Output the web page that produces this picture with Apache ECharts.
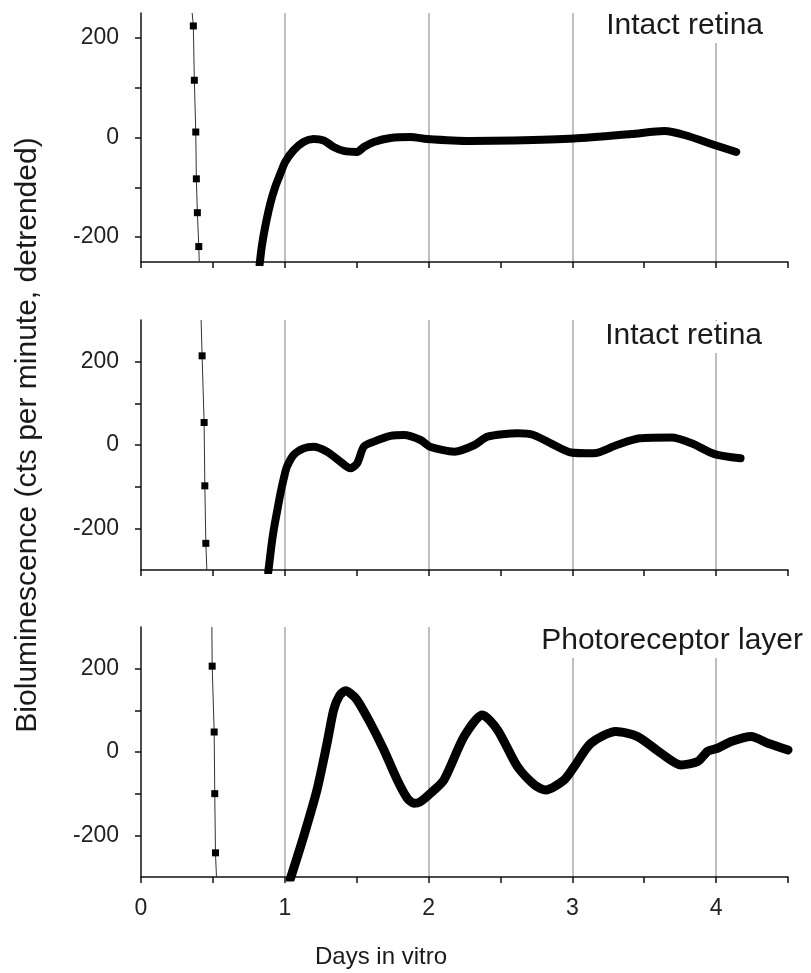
<!DOCTYPE html>
<html>
<head>
<meta charset="utf-8">
<script src="https://cdn.jsdelivr.net/npm/echarts@6/dist/echarts.min.js"></script>
<style>
    html, body { margin: 0; padding: 0; background: #fff; }
    #chart { width: 811px; height: 973px; }
</style>
</head>
<body>
<div id="chart"></div>
<script>
    // labels
    var panelTitles = ['Intact retina', 'Intact retina', 'Photoreceptor layer'];
    var xName = 'Days in vitro';
    var yName = 'Bioluminescence (cts per minute, detrended)';
    var xTickLabels = [0, 1, 2, 3, 4];
    var yTickLabels = [-200, 0, 200];
    var yTicks = [-200, -100, 0, 100, 200];
    var yRanges = [[-250, 250], [-300, 300], [-300, 300]];

    // panel 1: intact retina (days, cts)
    var retinaA = [
        [0.825, -255], [0.84, -219], [0.864, -179], [0.899, -133], [0.934, -99], [0.969, -73],
        [1.003, -49], [1.06, -26], [1.13, -9], [1.2, -3], [1.27, -6], [1.34, -19],
        [1.41, -27], [1.503, -29], [1.55, -19], [1.62, -9], [1.735, -1], [1.875, 1],
        [1.99, -3], [2.29, -7], [2.59, -6], [3.01, -2], [3.41, 7], [3.64, 13],
        [3.78, 5], [4.01, -17], [4.14, -29]
    ];
    var guideMarksA = [[0.364, 224], [0.371, 115], [0.381, 11], [0.385, -83], [0.392, -151], [0.402, -219]];
    var guideEndsA = [[0.356, 250], [0.405, -250]];

    // panel 2: intact retina
    var retinaB = [
        [0.885, -305], [0.9, -262], [0.915, -222], [0.93, -190], [0.946, -160], [0.965, -125],
        [0.98, -100], [1.0, -70], [1.015, -52], [1.061, -24], [1.131, -8], [1.2, -4],
        [1.294, -16], [1.387, -40], [1.456, -56], [1.503, -44], [1.55, -4], [1.62, 8],
        [1.735, 22], [1.828, 24], [1.944, 12], [2.01, -4], [2.18, -16], [2.32, 0],
        [2.41, 20], [2.62, 28], [2.73, 24], [2.85, 4], [2.99, -18], [3.15, -20],
        [3.31, 0], [3.47, 16], [3.69, 18], [3.83, 4], [3.99, -22], [4.17, -32]
    ];
    var guideMarksB = [[0.425, 214], [0.439, 54], [0.444, -98], [0.451, -236]];
    var guideEndsB = [[0.418, 300], [0.458, -300]];

    // panel 3: photoreceptor layer
    var photoLayer = [
        [1.038, -305], [1.131, -203], [1.224, -91], [1.294, 21], [1.34, 101], [1.38, 135],
        [1.422, 147], [1.46, 140], [1.503, 125], [1.596, 69], [1.689, 5], [1.782, -67],
        [1.85, -110], [1.898, -123], [1.94, -120], [2.014, -99], [2.107, -67], [2.247, 37],
        [2.374, 89], [2.48, 53], [2.618, -35], [2.74, -80], [2.815, -91], [2.943, -67],
        [3.013, -35], [3.129, 21], [3.303, 49], [3.454, 37], [3.617, -3], [3.756, -31],
        [3.872, -23], [3.942, 2], [4.01, 9], [4.105, 25], [4.244, 37], [4.36, 21], [4.5, 5]
    ];
    var guideMarksC = [[0.495, 206], [0.509, 48], [0.513, -100], [0.518, -242]];
    var guideEndsC = [[0.493, 300], [0.525, -300]];

    var curves = [retinaA, retinaB, photoLayer];
    var guideMarks = [guideMarksA, guideMarksB, guideMarksC];
    var guideEnds = [guideEndsA, guideEndsB, guideEndsC];

    var font = '"Liberation Sans", Arial, sans-serif';
    var gridTops = [13, 320, 627];
    var gridHeights = [249, 250, 250];
    var titleTops = [11, 321, 626];
    var titleRights = [44, 45, 4];

    var grids = [], xAxes = [], yAxes = [], series = [], titles = [];

    for (var i = 0; i < 3; i++) {
        grids.push({ left: 141, width: 647, top: gridTops[i], height: gridHeights[i] });

        xAxes.push({
            type: 'value',
            gridIndex: i,
            min: 0,
            max: 4.5,
            interval: 0.5,
            position: 'bottom',
            axisLine: { show: true, onZero: false, lineStyle: { color: '#111', width: 1.5 } },
            axisTick: { show: true, inside: false, length: 6, lineStyle: { color: '#111', width: 1.5 } },
            axisLabel: {
                show: i === 2,
                customValues: xTickLabels,
                margin: 20,
                color: '#222',
                fontSize: 23,
                fontFamily: font
            },
            splitLine: { show: false }
        });

        yAxes.push({
            type: 'value',
            gridIndex: i,
            min: yRanges[i][0],
            max: yRanges[i][1],
            axisLine: { show: true, onZero: false, lineStyle: { color: '#111', width: 1.5 } },
            axisTick: { show: true, customValues: yTicks, length: 6, lineStyle: { color: '#111', width: 1.5 } },
            axisLabel: {
                customValues: yTickLabels,
                margin: 22,
                color: '#222',
                fontSize: 23,
                fontFamily: font
            },
            splitLine: { show: false }
        });

        // guide line with square markers
        var ends = guideEnds[i];
        var guideData = [{ value: ends[0], symbol: 'none' }]
            .concat(guideMarks[i])
            .concat([{ value: ends[1], symbol: 'none' }]);
        series.push({
            type: 'line',
            xAxisIndex: i,
            yAxisIndex: i,
            data: guideData,
            symbol: 'rect',
            symbolSize: 7,
            itemStyle: { color: '#000' },
            lineStyle: { color: '#333', width: 1 },
            clip: true,
            z: 3
        });

        series.push({
            type: 'line',
            xAxisIndex: i,
            yAxisIndex: i,
            data: curves[i],
            smooth: 0.25,
            symbol: 'none',
            lineStyle: { color: '#000', width: i === 2 ? 9 : 8, cap: 'round', join: 'round' },
            clip: true,
            z: 4
        });

        titles.push({
            text: panelTitles[i],
            right: titleRights[i],
            top: titleTops[i],
            padding: [0, 4, 2, 4],
            backgroundColor: '#fff',
            textStyle: { fontSize: 30, fontWeight: 'normal', color: '#1a1a1a', fontFamily: font, lineHeight: 30 }
        });
    }

    // extra x axes only for the grey day lines
    for (var j = 0; j < 3; j++) {
        xAxes.push({
            type: 'value',
            gridIndex: j,
            min: 0,
            max: 4.5,
            interval: 1,
            position: 'bottom',
            axisLine: { show: false, onZero: false },
            axisTick: { show: false },
            axisLabel: { show: false },
            splitLine: { show: true, showMinLine: false, showMaxLine: false, lineStyle: { color: '#aaa', width: 1.5 } }
        });
    }

    var myChart = echarts.init(document.getElementById('chart'));
    myChart.setOption({
        animation: false,
        backgroundColor: '#fff',
        title: titles,
        grid: grids,
        xAxis: xAxes,
        yAxis: yAxes,
        series: series,
        graphic: [
            {
                type: 'text',
                x: 381,
                y: 957,
                style: {
                    text: xName,
                    fill: '#1a1a1a',
                    font: '24px ' + font,
                    align: 'center',
                    verticalAlign: 'middle'
                }
            },
            {
                type: 'text',
                x: 28,
                y: 435,
                rotation: Math.PI / 2,
                style: {
                    text: yName,
                    fill: '#1a1a1a',
                    font: '30px ' + font,
                    align: 'center',
                    verticalAlign: 'middle'
                }
            }
        ]
    });
</script>
</body>
</html>
